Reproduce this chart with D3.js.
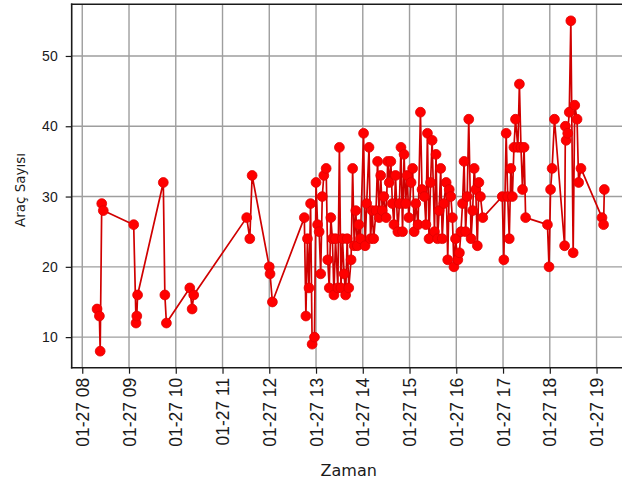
<!DOCTYPE html>
<html>
<head>
<meta charset="utf-8">
<script src="https://cdn.jsdelivr.net/npm/d3@7"></script>
<style>
  body { margin: 0; background: #fff; }
  svg { display: block; font-family: "DejaVu Sans", sans-serif; }
  .grid line { stroke: #9e9e9e; stroke-width: 1.4; }
  .axis path, .axis line { stroke: #1a1a1a; }
  .axis text { fill: #1a1a1a; }
</style>
</head>
<body>
<svg id="chart"></svg>
<script>
// Araç sayısı, 27 Ocak (saat:dakika)
const day = '2021-01-27';

const times = [
  '08:19', '08:22', '08:23', '08:25', '08:27',
  '09:06', '09:09', '09:10', '09:11',
  '09:44', '09:46', '09:48',
  '10:18', '10:21', '10:23',
  '11:31', '11:35', '11:38',
  '12:00', '12:01', '12:04',
  '12:45', '12:47', '12:49', '12:51', '12:53', '12:55', '12:58', '13:00', '13:02', '13:04',
  '13:06', '13:08', '13:10', '13:13', '13:15', '13:17', '13:19', '13:21', '13:23', '13:25',
  '13:28', '13:30', '13:32', '13:34', '13:36', '13:38', '13:40', '13:42', '13:45', '13:47',
  '13:49', '13:51', '13:53', '13:55', '13:57',
  '14:01', '14:03', '14:05', '14:08', '14:10', '14:12', '14:14', '14:17', '14:19', '14:21',
  '14:23', '14:25', '14:27', '14:30', '14:32', '14:34', '14:36', '14:38', '14:40', '14:42',
  '14:45', '14:47', '14:49', '14:51', '14:53', '14:55', '14:57', '14:59', '15:02', '15:04',
  '15:06', '15:08', '15:11', '15:14', '15:16', '15:19', '15:21', '15:23', '15:25', '15:27',
  '15:29', '15:32', '15:34', '15:36', '15:38', '15:40', '15:42', '15:44', '15:47', '15:49',
  '15:51', '15:53', '15:55', '15:57', '15:59', '16:02', '16:04', '16:06', '16:08', '16:10',
  '16:12', '16:14', '16:16', '16:19', '16:21', '16:23', '16:25', '16:27', '16:29', '16:31',
  '16:34',
  '16:59', '17:01', '17:04', '17:06', '17:08', '17:10', '17:12', '17:14', '17:16', '17:19',
  '17:21', '17:23', '17:25', '17:27', '17:29',
  '17:57', '17:59', '18:01', '18:03', '18:06',
  '18:19', '18:20', '18:21', '18:23', '18:25', '18:27', '18:30', '18:32', '18:35', '18:37',
  '18:40', '19:07', '19:09', '19:10'
];

const counts = [
  14, 13, 8, 29, 28,
  26, 12, 13, 16,
  32, 16, 12,
  17, 14, 16,
  27, 24, 33,
  20, 19, 15,
  27, 13, 24, 17, 29, 9, 10, 32, 26, 25,
  19, 30, 33, 34, 21, 17, 27, 24, 16, 24,
  17, 37, 17, 24, 19, 16, 24, 17, 21, 34,
  23, 28, 23, 26, 24,
  39, 23, 29, 37, 24, 28, 24, 28, 35, 27,
  33, 28, 30, 27, 35, 32, 35, 29, 26, 33,
  25, 29, 37, 25, 36, 29, 33, 27, 32, 34,
  25, 29, 26, 42, 31, 30, 26, 39, 24, 32,
  38, 25, 36, 24, 28, 34, 24, 29, 32, 21,
  31, 30, 27, 20, 24, 21, 22, 25, 29, 35,
  25, 30, 41, 24, 28, 34, 31, 23, 32, 30,
  27,
  30, 21, 39, 30, 24, 34, 30, 37, 41, 37,
  46, 37, 31, 37, 27,
  26, 20, 31, 34, 41,
  23, 40, 38, 39, 42, 55, 22, 43, 41, 32,
  34, 27, 26, 31
];

const yTicks = [10, 20, 30, 40, 50];
const xLabel = 'Zaman';
const yLabel = 'Araç Sayısı';

const config = {
  containerWidth: 622,
  containerHeight: 483,
  margin: { top: 4.3, left: 71.7 },
  plotWidth: 558,
  plotHeight: 363.4
};

const parseTime = d3.timeParse('%Y-%m-%d %H:%M');
const data = times.map((t, i) => ({ time: parseTime(day + ' ' + t), count: counts[i] }));

const svg = d3.select('#chart')
  .attr('width', config.containerWidth)
  .attr('height', config.containerHeight);

const chart = svg.append('g')
  .attr('transform', `translate(${config.margin.left},${config.margin.top})`);

// matplotlib-like 5% margins around the data
const xExt = d3.extent(data, d => d.time);
const xPad = (xExt[1] - xExt[0]) * 0.05;
const xScale = d3.scaleTime()
  .domain([new Date(+xExt[0] - xPad), new Date(+xExt[1] + xPad)])
  .range([0, config.plotWidth]);

const yExt = d3.extent(data, d => d.count);
const yPad = (yExt[1] - yExt[0]) * 0.05;
const yScale = d3.scaleLinear()
  .domain([yExt[0] - yPad, yExt[1] + yPad])
  .range([config.plotHeight, 0]);

const hourTicks = d3.timeHour.range(parseTime(day + ' 08:00'), parseTime(day + ' 19:01'));

// grid
chart.append('g')
  .attr('class', 'grid')
  .selectAll('line')
  .data(hourTicks)
  .join('line')
  .attr('x1', d => xScale(d)).attr('x2', d => xScale(d))
  .attr('y1', 0).attr('y2', config.plotHeight);

chart.append('g')
  .attr('class', 'grid')
  .selectAll('line')
  .data(yTicks)
  .join('line')
  .attr('x1', 0).attr('x2', config.plotWidth)
  .attr('y1', d => yScale(d)).attr('y2', d => yScale(d));

// series
const line = d3.line()
  .x(d => xScale(d.time))
  .y(d => yScale(d.count));

chart.append('path')
  .datum(data)
  .attr('fill', 'none')
  .attr('stroke', '#d00000')
  .attr('stroke-width', 1.7)
  .attr('stroke-linejoin', 'round')
  .attr('d', line);

chart.selectAll('.dot')
  .data(data)
  .join('circle')
  .attr('class', 'dot')
  .attr('cx', d => xScale(d.time))
  .attr('cy', d => yScale(d.count))
  .attr('r', 4.9)
  .attr('fill', '#ff0000')
  .attr('stroke', '#e00000')
  .attr('stroke-width', 0.8);

// spines: left, top, bottom (right one falls outside the picture)
const spines = [
  [0, 0, 0, config.plotHeight],
  [0, 0, config.plotWidth, 0],
  [0, config.plotHeight, config.plotWidth, config.plotHeight]
];
chart.append('g')
  .selectAll('line')
  .data(spines)
  .join('line')
  .attr('x1', d => d[0]).attr('y1', d => d[1])
  .attr('x2', d => d[2]).attr('y2', d => d[3])
  .attr('stroke', '#1a1a1a')
  .attr('stroke-width', 1.6)
  .attr('stroke-linecap', 'square');

// axes
const xAxis = d3.axisBottom(xScale)
  .tickValues(hourTicks)
  .tickSize(6)
  .tickPadding(5)
  .tickFormat(d3.timeFormat('%m-%d %H'));

const yAxis = d3.axisLeft(yScale)
  .tickValues(yTicks)
  .tickSize(6)
  .tickPadding(8);

const xAxisG = chart.append('g')
  .attr('class', 'axis x-axis')
  .attr('transform', `translate(0,${config.plotHeight})`)
  .call(xAxis)
  .call(g => g.select('.domain').remove());

xAxisG.selectAll('line').attr('stroke-width', 1.2);
xAxisG.selectAll('text')
  .attr('font-size', 17.5)
  .attr('text-anchor', 'end')
  .attr('dy', '0.35em')
  .attr('transform', 'rotate(-90)')
  .attr('x', -10)
  .attr('y', 0);

const yAxisG = chart.append('g')
  .attr('class', 'axis y-axis')
  .call(yAxis)
  .call(g => g.select('.domain').remove());

yAxisG.selectAll('line').attr('stroke-width', 1.2);
yAxisG.selectAll('text').attr('font-size', 14);

// axis titles
svg.append('text')
  .attr('x', config.margin.left + config.plotWidth / 2 - 2)
  .attr('y', 476)
  .attr('text-anchor', 'middle')
  .attr('font-size', 16)
  .attr('fill', '#1a1a1a')
  .text(xLabel);

svg.append('text')
  .attr('transform', `translate(25,${config.margin.top + config.plotHeight / 2 + 4}) rotate(-90)`)
  .attr('text-anchor', 'middle')
  .attr('font-size', 13.5)
  .attr('fill', '#1a1a1a')
  .text(yLabel);
</script>
</body>
</html>
